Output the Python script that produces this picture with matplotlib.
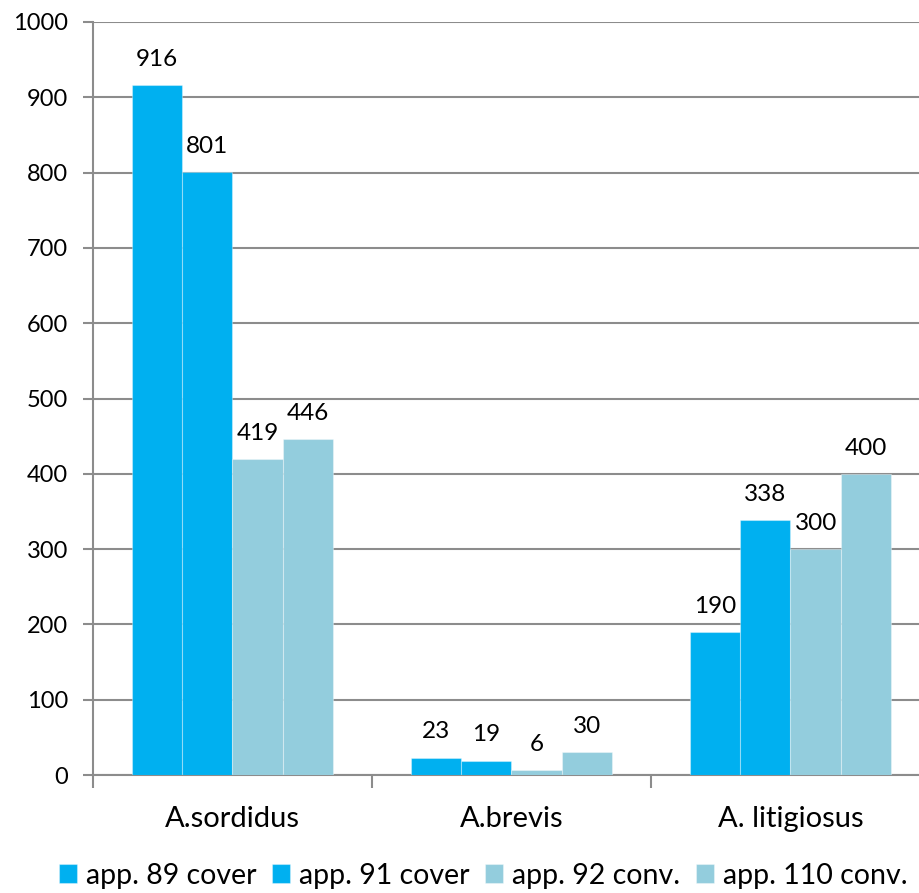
import matplotlib
matplotlib.use("Agg")
import matplotlib.pyplot as plt
import numpy as np

categories = ["A.sordidus", "A.brevis", "A. litigiosus"]
series_names = ["app. 89 cover", "app. 91 cover", "app. 92 conv.", "app. 110 conv."]
app89 = [916, 23, 190]
app91 = [801, 19, 338]
app92 = [419, 6, 300]
app110 = [446, 30, 400]
series_values = [app89, app91, app92, app110]
colors = ["#00B0F0", "#00B0F0", "#93CDDD", "#93CDDD"]
yticks = [0, 100, 200, 300, 400, 500, 600, 700, 800, 900, 1000]

plt.rcParams['font.family'] = ['Lato', 'DejaVu Sans']

fig = plt.figure(figsize=(9.2, 8.93), dpi=100)
ax = fig.add_axes([93/920, 118/893, 837/920, 753/893])

x = np.arange(len(categories))
w = 0.181
grid_c = "#8C8C8C"
for i, (name, vals, c) in enumerate(zip(series_names, series_values, colors)):
    pos = x + (i - 1.5) * w
    ax.bar(pos, vals, width=w, color=c, edgecolor=(1, 1, 1, 0.35), linewidth=0.8,
           label=name, zorder=3)
    for p, v in zip(pos, vals):
        ax.annotate(str(v), (p, v), xytext=(0, 11), textcoords="offset points",
                    ha="center", va="bottom", fontsize=17.5, color="#000000")

ax.set_xlim(-0.5, 2.5)
ax.set_ylim(0, 1000)
ax.set_yticks(yticks)
ax.yaxis.grid(True, color=grid_c, linewidth=1.5, zorder=0)
ax.set_axisbelow(True)
for s in ["top", "right"]:
    ax.spines[s].set_visible(False)
for s in ["left", "bottom"]:
    ax.spines[s].set_color(grid_c)
    ax.spines[s].set_linewidth(1.5)
ax.tick_params(axis="y", length=7, width=1.5, color=grid_c, labelsize=17, pad=11)
ax.set_xticks(x)
ax.set_xticklabels(categories)
ax.tick_params(axis="x", which="major", length=0, labelsize=21, pad=22)
ax.set_xticks([-0.5, 0.5, 1.5, 2.5], minor=True)
ax.tick_params(axis="x", which="minor", length=9, width=1.5, color=grid_c)

fig.legend(loc="lower center", bbox_to_anchor=(0.525, -0.024), ncol=4, frameon=False,
           fontsize=20.5, handlelength=0.65, handleheight=0.65, handletextpad=0.3,
           columnspacing=0.55)

fig.savefig("out.png", dpi=100)
